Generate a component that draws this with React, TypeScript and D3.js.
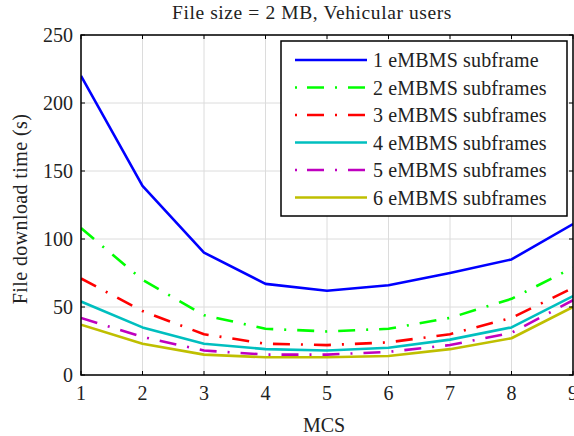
import React from "react";
import * as d3 from "d3";

const mcs = [1, 2, 3, 4, 5, 6, 7, 8, 9];
const sf1 = [220, 139, 90, 67, 62, 66, 75, 85, 111];
const sf2 = [108, 70, 44, 34, 32, 34, 42, 56, 79];
const sf3 = [71, 47, 30, 23, 22, 24, 30, 42, 64];
const sf4 = [54, 35, 23, 19, 18, 20, 26, 35, 58];
const sf5 = [42, 28, 18, 15, 15, 17, 22, 31, 55];
const sf6 = [37, 23, 15, 13, 13, 14, 19, 27, 50];
const seriesNames = [
  "1 eMBMS subframe",
  "2 eMBMS subframes",
  "3 eMBMS subframes",
  "4 eMBMS subframes",
  "5 eMBMS subframes",
  "6 eMBMS subframes",
];
const xTicks = [1, 2, 3, 4, 5, 6, 7, 8, 9];
const yTicks = [0, 50, 100, 150, 200, 250];

const colors = ["#0000ff", "#00ff00", "#ff0000", "#00bfbf", "#bf00bf", "#bfbf00"];
const dashes = [null, "17 11 2 11", "17 11 2 11", null, "17 11 2 11", null];

export default function App() {
  const W = 574, H = 436;
  const L = 81, R = 573, T = 35, B = 375;
  const x = d3.scaleLinear().domain([1, 9]).range([L, R]);
  const y = d3.scaleLinear().domain([0, 250]).range([B, T]);
  const data = [sf1, sf2, sf3, sf4, sf5, sf6];
  const line = d3
    .line<number>()
    .x((_, i) => x(mcs[i]))
    .y((d) => y(d));
  const font = "'Liberation Serif', 'Times New Roman', serif";
  const tStyle = { fontFamily: font } as React.CSSProperties;
  const legL = 281, legT = 41, legR = 567, legB = 216;
  return (
    <svg
      width={W}
      height={H}
      style={{ position: "absolute", left: 0, top: 0, background: "#fff", fontFamily: font }}
    >
      <rect x={0} y={0} width={W} height={H} fill="#fff" />
      {xTicks.map((t) => (
        <line key={"gx" + t} x1={x(t)} x2={x(t)} y1={T} y2={B} stroke="#dcdcdc" strokeWidth={1} />
      ))}
      {yTicks.map((t) => (
        <line key={"gy" + t} x1={L} x2={R} y1={y(t)} y2={y(t)} stroke="#dcdcdc" strokeWidth={1} />
      ))}
      <defs>
        <clipPath id="plotclip">
          <rect x={L} y={T} width={R - L} height={B - T} />
        </clipPath>
      </defs>
      <g clipPath="url(#plotclip)">
        {data.map((s, i) => (
          <path
            key={i}
            d={line(s) || ""}
            fill="none"
            stroke={colors[i]}
            strokeWidth={2.6}
            strokeDasharray={dashes[i] || undefined}
            strokeLinejoin="round"
          />
        ))}
      </g>
      {xTicks.map((t) => (
        <g key={"tx" + t}>
          <line x1={x(t)} x2={x(t)} y1={B} y2={B - 4} stroke="#000" />
          <line x1={x(t)} x2={x(t)} y1={T} y2={T + 4} stroke="#000" />
          <text x={x(t)} y={400} fontSize={20} textAnchor="middle" fill="#222" style={tStyle}>
            {t}
          </text>
        </g>
      ))}
      {yTicks.map((t) => (
        <g key={"ty" + t}>
          <line x1={L} x2={L + 4} y1={y(t)} y2={y(t)} stroke="#000" />
          <line x1={R} x2={R - 4} y1={y(t)} y2={y(t)} stroke="#000" />
          <text x={73} y={y(t) + 7} fontSize={20} textAnchor="end" fill="#222" style={tStyle}>
            {t}
          </text>
        </g>
      ))}
      <rect x={L} y={T} width={R - L} height={B - T} fill="none" stroke="#000" strokeWidth={1.5} />
      <rect x={legL} y={legT} width={legR - legL} height={legB - legT} fill="#fff" stroke="#000" strokeWidth={1.5} />
      {seriesNames.map((n, i) => {
        const ry = 60 + i * 27.5;
        return (
          <g key={"lg" + i}>
            <line
              x1={295}
              x2={367}
              y1={ry}
              y2={ry}
              stroke={colors[i]}
              strokeWidth={2.6}
              strokeDasharray={dashes[i] ? "2 10 17 11 2 11 17 2" : undefined}
            />
            <text x={373} y={ry + 7} fontSize={20} letterSpacing={0.15} fill="#222" style={tStyle}>
              {n}
            </text>
          </g>
        );
      })}
      <text x={312} y={19} fontSize={19.5} letterSpacing={0.6} textAnchor="middle" fill="#222" style={tStyle}>
        File size = 2 MB, Vehicular users
      </text>
      <text x={324} y={432} fontSize={20} textAnchor="middle" fill="#222" style={tStyle}>
        MCS
      </text>
      <text
        transform={`translate(27, 209) rotate(-90)`}
        fontSize={20}
        letterSpacing={0.4}
        textAnchor="middle"
        fill="#222"
        style={tStyle}
      >
        File download time (s)
      </text>
    </svg>
  );
}
